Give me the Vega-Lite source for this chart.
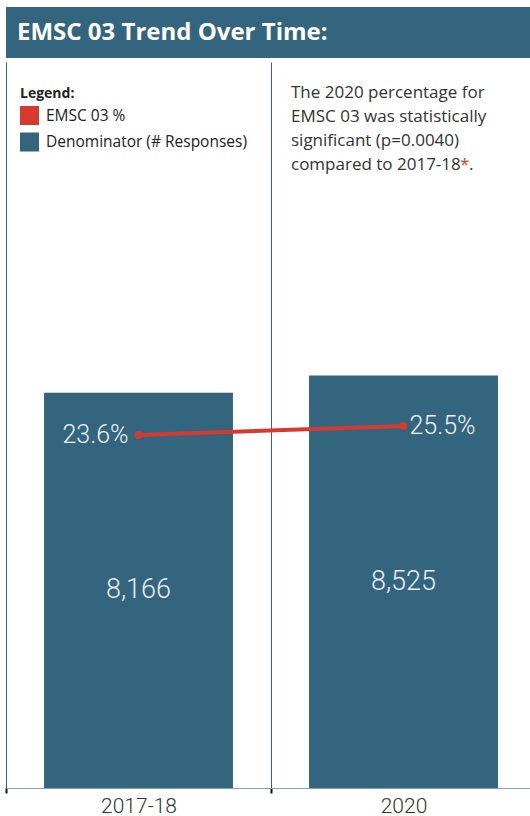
{
  "$schema": "https://vega.github.io/schema/vega-lite/v6.json",
  "padding": {"left": 5, "top": 7, "right": 0, "bottom": 0},
  "background": "white",
  "spacing": 4,
  "config": {"font": "Open Sans", "view": {"stroke": null}},
  "vconcat": [
    {
      "width": 525,
      "height": 51,
      "view": {"fill": "#34657f", "stroke": null},
      "data": {"values": [{"title": "EMSC 03 Trend Over Time:"}]},
      "mark": {"type": "text", "align": "left", "baseline": "middle", "x": 11, "y": 26, "font": "Open Sans", "fontWeight": "bold", "fontSize": 24, "color": "white"},
      "encoding": {"text": {"field": "title", "type": "nominal"}}
    },
    {
      "width": 530,
      "height": 726,
      "data": {"values": [
        {"year": "2017-18", "responses": 8166, "pct": 0.236},
        {"year": "2020", "responses": 8525, "pct": 0.255}
      ]},
      "encoding": {
        "x": {
          "field": "year", "type": "nominal",
          "scale": {"domain": ["2017-18", "2020"], "paddingInner": 0, "paddingOuter": 0},
          "axis": {
            "title": null, "labelAngle": 0, "labelFontSize": 21, "labelColor": "#333333",
            "labelFont": "Roboto", "labelFontWeight": 300, "labelPadding": 2,
            "tickBand": "extent", "tickColor": "#111111", "tickWidth": 2, "tickSize": 5,
            "domainColor": "#8aa0b0", "domainWidth": 1,
            "grid": true, "gridColor": "#34657f", "gridWidth": 1
          }
        }
      },
      "layer": [
        {
          "mark": {"type": "bar", "width": {"band": 0.713}},
          "encoding": {
            "y": {"field": "responses", "type": "quantitative", "scale": {"domain": [0, 15000]}, "axis": null},
            "color": {
              "datum": "Denominator (# Responses)", "type": "nominal",
              "scale": {"domain": ["EMSC 03 %", "Denominator (# Responses)"], "range": ["#d63a2f", "#34657f"]},
              "legend": {
                "orient": "none", "legendX": 14, "legendY": 80, "title": "Legend:",
                "titleFontSize": 14, "titleFontWeight": "bold", "titleColor": "#222222", "titleFont": "Open Sans",
                "labelFont": "Open Sans", "labelFontSize": 15.5, "labelColor": "#222222", "labelLimit": 400,
                "symbolType": "square", "symbolSize": 361, "symbolStrokeWidth": 0,
                "rowPadding": 7.5, "labelOffset": 7, "titlePadding": 5, "padding": 0
              }
            }
          }
        },
        {
          "mark": {"type": "text", "font": "Roboto", "fontWeight": 300, "fontSize": 27, "color": "#e6ecf0", "baseline": "middle"},
          "encoding": {
            "y": {"field": "responses", "type": "quantitative", "scale": {"domain": [0, 30000]}, "axis": null},
            "text": {"field": "responses", "type": "quantitative", "format": ","}
          }
        },
        {
          "mark": {"type": "line", "color": "#d63a2f", "strokeWidth": 4, "point": {"filled": true, "size": 60, "color": "#d63a2f"}},
          "encoding": {
            "y": {"field": "pct", "type": "quantitative", "scale": {"domain": [-0.51, 1.024]}, "axis": null}
          }
        },
        {
          "transform": [{"filter": "datum.year == '2017-18'"}],
          "mark": {"type": "text", "font": "Roboto", "fontWeight": 300, "fontSize": 25, "color": "#f0f0f0", "align": "right", "baseline": "middle", "dx": -10},
          "encoding": {
            "y": {"field": "pct", "type": "quantitative", "scale": {"domain": [-0.51, 1.024]}, "axis": null},
            "text": {"field": "pct", "type": "quantitative", "format": ".1%"}
          }
        },
        {
          "transform": [{"filter": "datum.year == '2020'"}],
          "mark": {"type": "text", "font": "Roboto", "fontWeight": 300, "fontSize": 25, "color": "#f0f0f0", "align": "left", "baseline": "middle", "dx": 6},
          "encoding": {
            "y": {"field": "pct", "type": "quantitative", "scale": {"domain": [-0.51, 1.024]}, "axis": null},
            "text": {"field": "pct", "type": "quantitative", "format": ".1%"}
          }
        },
        {
          "data": {"values": [{"note": "significance"}]},
          "mark": {"type": "text", "font": "Open Sans", "fontSize": 17, "color": "#333333", "align": "left", "baseline": "alphabetic", "lineHeight": 24, "dx": 20,
            "text": ["The 2020 percentage for", "EMSC 03 was statistically", "significant (p=0.0040)", "compared to 2017-18"]},
          "encoding": {
            "x": {"datum": "2020", "type": "nominal", "bandPosition": 0},
            "y": {"datum": 14256, "type": "quantitative", "scale": {"domain": [0, 15000]}, "axis": null}
          }
        },
        {
          "data": {"values": [{"note": "asterisk"}]},
          "mark": {"type": "text", "font": "Open Sans", "fontSize": 17, "color": "#d63a2f", "align": "left", "baseline": "alphabetic", "dx": 189, "text": "*"},
          "encoding": {
            "x": {"datum": "2020", "type": "nominal", "bandPosition": 0},
            "y": {"datum": 12769, "type": "quantitative", "scale": {"domain": [0, 15000]}, "axis": null}
          }
        },
        {
          "data": {"values": [{"note": "period"}]},
          "mark": {"type": "text", "font": "Open Sans", "fontSize": 17, "color": "#333333", "align": "left", "baseline": "alphabetic", "dx": 198, "text": "."},
          "encoding": {
            "x": {"datum": "2020", "type": "nominal", "bandPosition": 0},
            "y": {"datum": 12769, "type": "quantitative", "scale": {"domain": [0, 15000]}, "axis": null}
          }
        }
      ],
      "resolve": {"scale": {"y": "independent"}}
    }
  ]
}
